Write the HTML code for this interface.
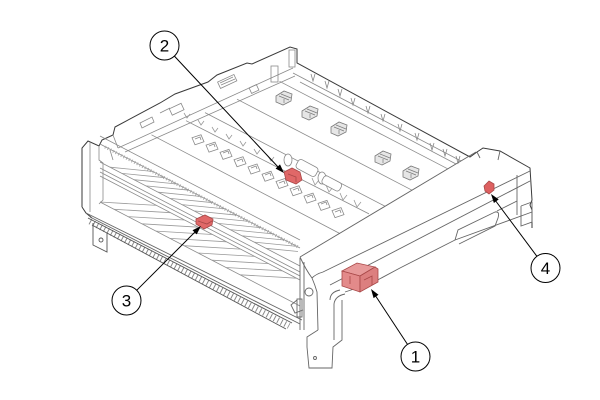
<!DOCTYPE html>
<html>
<head>
<meta charset="utf-8">
<style>
html,body{margin:0;padding:0;background:#fff;}
svg{display:block;}
text{font-family:"Liberation Sans",Arial,sans-serif;}
</style>
</head>
<body>
<svg width="600" height="400" viewBox="0 0 600 400" xmlns="http://www.w3.org/2000/svg">
<rect width="600" height="400" fill="#fff"/>

<!-- ===== Back plate ===== -->
<g fill="none" stroke="#3a3a3a" stroke-width="1">
  <polyline points="82,207 82,148 88,141 99,146 102,140 113,135 115,127 160,103 175,94 208,82 217,75 247,63 252,64 290,47 297,49 297,63 470,157 477,152 483,148 500,151 530,168 532,200 530,205 532,210 532,228"/>
  <polyline points="82,207 86,213 92,218"/>
</g>
<g fill="none" stroke="#8a8a8a" stroke-width="0.8">
  <line x1="118" y1="148" x2="293" y2="68"/>
  <line x1="125" y1="152" x2="295" y2="76"/>
  <line x1="113" y1="135" x2="118" y2="148"/>
  <line x1="90" y1="142" x2="90" y2="212"/>
  <polyline points="99,146 99,160 103,163 103,200 99,204"/>
  <line x1="110" y1="150" x2="113" y2="160"/>
  <rect x="170" y="106" width="13" height="7" transform="rotate(-25 176 109)"/>
  <rect x="218" y="78" width="18" height="7" transform="rotate(-25 227 81)"/>
  <line x1="220" y1="83" x2="233" y2="77"/><line x1="221" y1="85" x2="235" y2="79"/>
  <rect x="250" y="86" width="8" height="6" transform="rotate(-25 254 89)"/>
  <rect x="271" y="66" width="7" height="16"/>
  <rect x="289" y="50" width="6" height="17"/>
  <path d="M140,123 l12,-6 l2,5 l-12,6 z"/>
  <path d="M160,113 l10,-5"/>
</g>

<!-- ===== Right wall & tray floor ===== -->
<g fill="none" stroke="#8a8a8a" stroke-width="0.8">
  <line x1="293" y1="73" x2="461" y2="161"/>
  <line x1="300" y1="82" x2="456" y2="164"/>
  <line x1="279.5" y1="81.3" x2="447.7" y2="168.8"/>
  <line x1="237" y1="99.2" x2="412" y2="190.2"/>
  <line x1="205" y1="112.6" x2="385" y2="206.2"/>
  <line x1="186" y1="120.7" x2="369" y2="213.9"/>
  <line x1="151.5" y1="134.8" x2="340" y2="233.6"/>
</g>
<g fill="none" stroke="#888" stroke-width="0.8">
  <path d="M311,74 L313,81 L315,74"/><path d="M325,81 L327,88 L329,81"/><path d="M338,89 L340,96 L342,89"/>
  <path d="M351,98 L353,105 L355,98"/><path d="M366,106 L368,113 L370,106"/><path d="M381,114 L383,121 L385,114"/>
  <path d="M398,124 L400,131 L402,124"/><path d="M415,133 L417,140 L419,133"/><path d="M430,143 L432,150 L434,143"/>
  <path d="M443,149 L445,156 L447,149"/><path d="M456,156 L458,163 L460,156"/>
</g>
<g fill="none" stroke="#999" stroke-width="0.8">
  <path d="M184,113 l3,5 l3,-4"/><path d="M198,120 l3,5 l3,-4"/><path d="M212,127 l3,5 l3,-4"/>
  <path d="M226,134 l3,5 l3,-4"/><path d="M240,141 l3,5 l3,-4"/><path d="M254,149 l3,5 l3,-4"/>
  <path d="M268,156 l3,5 l3,-4"/><path d="M312,178 l3,7 l4,-5"/><path d="M326,185 l3,7 l4,-5"/>
  <path d="M340,193 l3,7 l4,-5"/><path d="M354,200 l3,7 l4,-5"/>
</g>
<g fill="#fff" stroke="#888" stroke-width="0.8">
  <ellipse cx="288" cy="160" rx="4" ry="6"/>
  <rect x="296" y="163" width="22" height="10" rx="3" transform="rotate(28 307 168)"/>
  <ellipse cx="322" cy="178" rx="4" ry="6"/>
  <rect x="322" y="179" width="20" height="9" rx="3" transform="rotate(28 332 183)"/>
</g>
<g fill="#e6e6e6" stroke="#7a7a7a" stroke-width="0.8">
  <path d="M276,96 l8,-5 l8,3 l-1,7 l-8,4 l-7,-3 z"/>
  <path d="M302,111 l8,-5 l8,3 l-1,7 l-8,4 l-7,-3 z"/>
  <path d="M331,127 l8,-5 l8,3 l-1,7 l-8,4 l-7,-3 z"/>
  <path d="M375,156 l8,-5 l8,3 l-1,7 l-8,4 l-7,-3 z"/>
  <path d="M403,171 l8,-5 l8,3 l-1,7 l-8,4 l-7,-3 z"/>
</g>
<g fill="none" stroke="#7a7a7a" stroke-width="0.7">
  <path d="M279,96 l10,4 M281,94 l10,4 M284,99 v4"/>
  <path d="M305,111 l10,4 M307,109 l10,4 M310,114 v4"/>
  <path d="M334,127 l10,4 M336,125 l10,4 M339,130 v4"/>
  <path d="M378,156 l10,4 M380,154 l10,4 M383,159 v4"/>
  <path d="M406,171 l10,4 M408,169 l10,4 M411,174 v4"/>
</g>
<g fill="none" stroke="#8a8a8a" stroke-width="0.8">
  <path d="M192,137.8 l9,-3 l3,7 l-9,3 z M195,139 l5,-2 l1,3"/>
  <path d="M206,145.1 l9,-3 l3,7 l-9,3 z M209,146 l5,-2 l1,3"/>
  <path d="M220,152.4 l9,-3 l3,7 l-9,3 z M223,153 l5,-2 l1,3"/>
  <path d="M234,159.7 l9,-3 l3,7 l-9,3 z M237,161 l5,-2 l1,3"/>
  <path d="M248,167 l9,-3 l3,7 l-9,3 z M251,168 l5,-2 l1,3"/>
  <path d="M262,174.2 l9,-3 l3,7 l-9,3 z M265,175 l5,-2 l1,3"/>
  <path d="M276,181.5 l9,-3 l3,7 l-9,3 z M279,183 l5,-2 l1,3"/>
  <path d="M290,188.8 l9,-3 l3,7 l-9,3 z M293,190 l5,-2 l1,3"/>
  <path d="M304,196.1 l9,-3 l3,7 l-9,3 z M307,197 l5,-2 l1,3"/>
  <path d="M318,203.4 l9,-3 l3,7 l-9,3 z M321,204 l5,-2 l1,3"/>
  <path d="M332,210.6 l9,-3 l3,7 l-9,3 z M335,212 l5,-2 l1,3"/>
</g>

<!-- ===== Front crossbar ===== -->
<g fill="none" stroke="#8a8a8a" stroke-width="0.8">
  <line x1="100" y1="136" x2="300" y2="240"/>
  <line x1="100" y1="144" x2="300" y2="248"/>
  <line x1="100" y1="162" x2="300" y2="266"/>
  <line x1="100" y1="168" x2="300" y2="272"/>
  <line x1="100" y1="172" x2="300" y2="276"/>
  <line x1="100" y1="176" x2="300" y2="280"/>
  <line x1="100" y1="202" x2="300" y2="306"/>
</g>
<g fill="none" stroke="#666" stroke-width="0.9">
  <line x1="86" y1="213" x2="302" y2="320"/>
  <line x1="90" y1="217" x2="300" y2="324"/>
</g>
<line x1="105" y1="147" x2="298" y2="247" stroke="#aaa" stroke-width="3" stroke-dasharray="1 2"/>
<!-- slats upper band (nearly horizontal) -->
<g stroke="#9a9a9a" stroke-width="0.8">
  <line x1="110" y1="167.2" x2="153" y2="171.5"/><line x1="122" y1="173.4" x2="165" y2="177.7"/>
  <line x1="134" y1="179.7" x2="177" y2="184"/><line x1="146" y1="185.9" x2="189" y2="190.2"/>
  <line x1="158" y1="192.2" x2="201" y2="196.5"/><line x1="170" y1="198.4" x2="213" y2="202.7"/>
  <line x1="182" y1="204.6" x2="225" y2="208.9"/><line x1="194" y1="210.9" x2="237" y2="215.2"/>
  <line x1="206" y1="217.1" x2="249" y2="221.4"/><line x1="218" y1="223.4" x2="261" y2="227.7"/>
  <line x1="230" y1="229.6" x2="273" y2="233.9"/><line x1="242" y1="235.8" x2="285" y2="240.1"/>
  <line x1="254" y1="242.1" x2="297" y2="246.4"/><line x1="266" y1="248.3" x2="298" y2="251.5"/>
</g>
<!-- slats lower band -->
<g stroke="#9a9a9a" stroke-width="0.8">
  <line x1="100" y1="202" x2="156.5" y2="205.4"/><line x1="114" y1="209.3" x2="170.5" y2="212.7"/>
  <line x1="128" y1="216.6" x2="184.5" y2="220"/><line x1="142" y1="223.8" x2="198.5" y2="227.2"/>
  <line x1="156" y1="231.1" x2="212.5" y2="234.5"/><line x1="170" y1="238.4" x2="226.5" y2="241.8"/>
  <line x1="184" y1="245.7" x2="240.5" y2="249.1"/><line x1="198" y1="253" x2="254.5" y2="256.4"/>
  <line x1="212" y1="260.2" x2="268.5" y2="263.6"/><line x1="226" y1="267.5" x2="282.5" y2="270.9"/>
  <line x1="240" y1="274.8" x2="296.5" y2="278.2"/>
</g>
<!-- toothed strip -->
<g fill="none">
  <line x1="90" y1="221.5" x2="289" y2="326" stroke="#8a8a8a" stroke-width="6" stroke-dasharray="1 3"/>
  <line x1="88" y1="218" x2="292" y2="323" stroke="#555" stroke-width="0.9"/>
  <line x1="92" y1="225" x2="286" y2="329" stroke="#555" stroke-width="0.9"/>
</g>
<g fill="none" stroke="#555" stroke-width="0.9">
  <polyline points="93,223 93,245 107,252 107,233"/>
  <circle cx="101" cy="240" r="2"/>
</g>

<!-- ===== Rail ===== -->
<g fill="none" stroke="#666" stroke-width="0.9">
  <line x1="300" y1="257" x2="476" y2="152"/>
  <path d="M312,278 Q316,274 323,272 L530,171"/>
  <line x1="330" y1="285" x2="530" y2="181"/>
  <polyline points="532,212 455,240 400,268 372,283 345,292"/>
  <path d="M300,257 Q306,270 312,278 Q315,285 317,292 L318,330"/>
  <line x1="300" y1="258" x2="300" y2="330"/>
  <line x1="304" y1="262" x2="304" y2="330"/>
  <circle cx="309" cy="292" r="4"/>
  <rect x="297" y="299" width="5" height="18"/>
  <polyline points="318,330 307,337 307,347 309,368 332,368 333,347 342,340 342,300"/>
  <circle cx="315" cy="358" r="1.5"/>
  <path d="M330,300 Q330,292 340,290"/>
  <path d="M334,340 L334,304 Q335,296 345,294"/>
  <path d="M455,240 l3,-10 l37,-18 q5,-1 3,6 l-3,8 l-36,18"/>
  <path d="M497,211 l20,-10"/>
  <polyline points="517,175 517,215"/>
  <polyline points="521,206 532,202 532,222 521,226 521,206"/>
  <line x1="500" y1="151" x2="498" y2="160"/>
  <line x1="477" y1="152" x2="480" y2="158"/>
  <path d="M297,300 l-6,5 l4,8 l8,-3"/>
</g>

<!-- ===== Red parts ===== -->
<g stroke="#a84848" stroke-width="0.8">
  <path d="M342,271 L357,263 L375,267 L360,276 Z" fill="#e79a9a"/>
  <path d="M342,271 L360,276 L360,292 L342,286 Z" fill="#e38a8a"/>
  <path d="M360,276 L375,267 L378,269 L378,282 L360,292 Z" fill="#dc7f7f"/>
  <path d="M364,280 l8,-4 v9 M350,276 v8" fill="none"/>
  <path d="M284,172 L292,168 L300,172 L302,180 L296,184 L286,180 Z" fill="#e06868"/>
  <path d="M288,174 l8,3 v5" fill="none"/>
  <path d="M196,219 L205,215 L213,219 L212,225 L204,229 L196,224 Z" fill="#e06868"/>
  <path d="M198,221 l9,3 l5,-3" fill="none"/>
  <path d="M484,186 L489,181 L494,184 L494,190 L489,194 L485,191 Z" fill="#dd6060"/>
</g>

<!-- ===== Leaders ===== -->
<g stroke="#000" stroke-width="1" fill="none">
  <line x1="174.4" y1="56.1" x2="279" y2="168"/>
  <line x1="136.8" y1="290.2" x2="196" y2="231"/>
  <line x1="407.5" y1="344.4" x2="375" y2="295"/>
  <line x1="536.9" y1="256.3" x2="495" y2="200"/>
</g>
<g fill="#000">
  <polygon points="284,173 275.6,168.6 280,164.4"/>
  <polygon points="201,226 196.7,234.4 192.5,230.2"/>
  <polygon points="371,289 378.5,294.8 373.6,298.1"/>
  <polygon points="491,194 498.7,199.4 493.9,203"/>
</g>
<g fill="#fff" stroke="#000" stroke-width="1">
  <circle cx="164.5" cy="45.5" r="14.5"/>
  <circle cx="126.5" cy="300.5" r="14.5"/>
  <circle cx="415.5" cy="356.5" r="14.5"/>
  <circle cx="545.5" cy="268" r="14.5"/>
</g>
<g font-size="17" fill="#000" text-anchor="middle">
  <text x="164.5" y="51.5">2</text>
  <text x="126.5" y="306.5">3</text>
  <text x="415.5" y="362.5">1</text>
  <text x="545.5" y="274">4</text>
</g>
</svg>
</body>
</html>
